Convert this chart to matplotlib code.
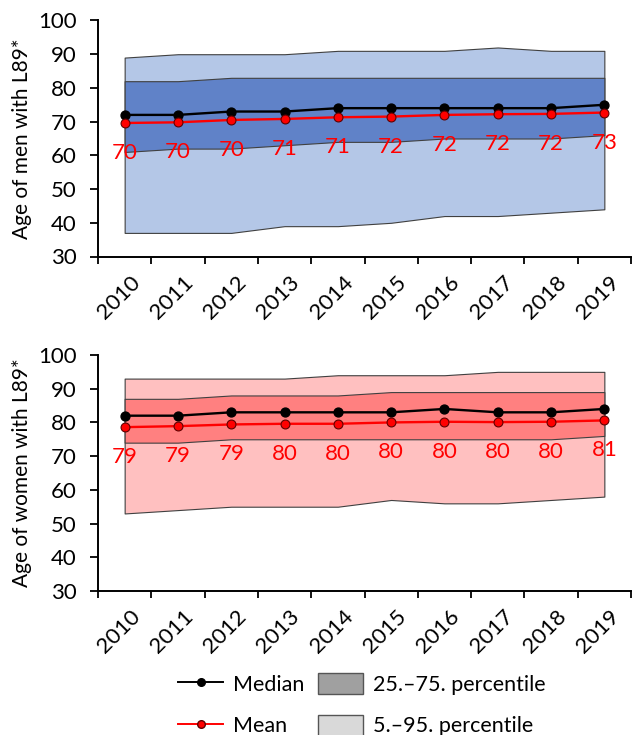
import matplotlib
matplotlib.use("Agg")
import matplotlib.pyplot as plt
from matplotlib.lines import Line2D
from matplotlib.patches import Patch
from matplotlib.transforms import ScaledTranslation
import numpy as np

plt.rcParams['font.family'] = ['Lato', 'DejaVu Sans']

years = ['2010', '2011', '2012', '2013', '2014', '2015', '2016', '2017', '2018', '2019']

men_median = [72, 72, 73, 73, 74, 74, 74, 74, 74, 75]
men_mean = [69.6, 69.8, 70.5, 70.8, 71.3, 71.5, 72.0, 72.2, 72.3, 72.7]
men_mean_labels = ['70', '70', '70', '71', '71', '72', '72', '72', '72', '73']
men_p5 = [37, 37, 37, 39, 39, 40, 42, 42, 43, 44]
men_p25 = [61, 62, 62, 63, 64, 64, 65, 65, 65, 66]
men_p75 = [82, 82, 83, 83, 83, 83, 83, 83, 83, 83]
men_p95 = [89, 90, 90, 90, 91, 91, 91, 92, 91, 91]

women_median = [82, 82, 83, 83, 83, 83, 84, 83, 83, 84]
women_mean = [78.6, 78.9, 79.4, 79.6, 79.6, 80.0, 80.2, 80.1, 80.2, 80.6]
women_mean_labels = ['79', '79', '79', '80', '80', '80', '80', '80', '80', '81']
women_p5 = [53, 54, 55, 55, 55, 57, 56, 56, 57, 58]
women_p25 = [74, 74, 75, 75, 75, 75, 75, 75, 75, 76]
women_p75 = [87, 87, 88, 88, 88, 89, 89, 89, 89, 89]
women_p95 = [93, 93, 93, 93, 94, 94, 94, 95, 95, 95]

W, H = 632, 735
fig = plt.figure(figsize=(W / 100, H / 100), dpi=100)

def fx(px):
    return px / W

def fy(py):
    return 1 - py / H

left, right = 98, 631
ax1 = fig.add_axes([fx(left), fy(256.5), fx(right - left), fy(20.5) - fy(256.5)])
ax2 = fig.add_axes([fx(left), fy(591), fx(right - left), fy(355) - fy(591)])

FS = 15
TFS = 16

def draw(ax, med, mean, mlabels, p5, p25, p75, p95, light, dark, ylabel):
    x = np.arange(len(years))
    edge = '#404040'
    ax.fill_between(x, p5, p95, facecolor=light, edgecolor=edge, linewidth=0.8, zorder=1)
    ax.fill_between(x, p25, p75, facecolor=dark, edgecolor=edge, linewidth=0.8, zorder=2)
    ax.plot(x, med, color='black', lw=1.7, marker='o', ms=6.4,
            mfc='black', mec='black', zorder=4)
    ax.plot(x, mean, color='#ff0000', lw=1.7, marker='o', ms=6.4,
            mfc='#ff0000', mec='#600000', mew=0.8, zorder=5)
    for xi, yi, lab in zip(x, mean, mlabels):
        ax.annotate(lab, (xi, yi), xytext=(0, -30), textcoords='offset pixels',
                    ha='center', va='center', color='#ff0000', fontsize=16, zorder=6)
    ax.set_xlim(-0.5, len(years) - 0.5)
    ax.set_ylim(30, 100)
    ax.set_yticks(range(30, 101, 10))
    ax.set_xticks(x)
    ax.set_xticklabels(years, rotation=45, ha='right', va='top', rotation_mode='anchor')
    ax.set_xticks(np.arange(len(years) + 1) - 0.5, minor=True)
    ax.tick_params(axis='x', which='major', length=0, pad=11, labelsize=TFS)
    ax.tick_params(axis='x', which='minor', length=5, width=1.3, direction='out')
    ax.tick_params(axis='y', length=5.5, width=1.3, direction='out', labelsize=TFS, pad=10)
    off = ScaledTranslation(5 / 100, 0, fig.dpi_scale_trans)
    for lab in ax.get_xticklabels():
        lab.set_transform(lab.get_transform() + off)
    for s in ['top', 'right']:
        ax.spines[s].set_visible(False)
    for s in ['left', 'bottom']:
        ax.spines[s].set_linewidth(1.4)
    ax.set_ylabel(ylabel, fontsize=FS, va='center')
    ax.yaxis.set_label_coords(-(98 - 22) / (right - left), 0.5)

draw(ax1, men_median, men_mean, men_mean_labels, men_p5, men_p25, men_p75, men_p95,
     '#b4c7e7', '#6082c8', 'Age of men with L89*')
draw(ax2, women_median, women_mean, women_mean_labels, women_p5, women_p25, women_p75, women_p95,
     '#ffc0c0', '#ff8080', 'Age of women with L89*')

handles = [
    Line2D([], [], color='black', lw=1.4, marker='o', ms=5.5, mfc='black', mec='black'),
    Line2D([], [], color='#ff0000', lw=1.4, marker='o', ms=5.5, mfc='#ff0000', mec='#600000'),
    Patch(facecolor='#a0a0a0', edgecolor='#555555', lw=1.0),
    Patch(facecolor='#d9d9d9', edgecolor='#555555', lw=1.0),
]
labels = ['Median', 'Mean', '25.\u201375. percentile', '5.\u201395. percentile']
LFS = 15.5
fs_px = LFS * 100 / 72
fig.legend(handles, labels, ncol=2, loc='upper left',
           bbox_to_anchor=(fx(178), fy(673)), frameon=False, fontsize=LFS,
           handlelength=45 / fs_px, handleheight=24 / fs_px, handletextpad=10 / fs_px,
           columnspacing=14 / fs_px, labelspacing=20 / fs_px, borderpad=0, borderaxespad=0)

fig.savefig('out.png', dpi=100)
